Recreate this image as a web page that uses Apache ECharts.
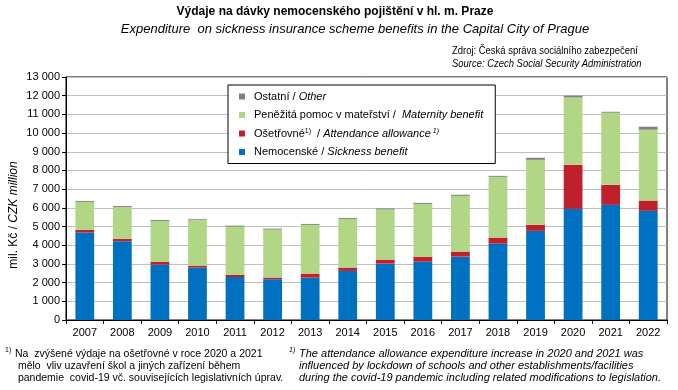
<!DOCTYPE html>
<html>
<head>
<meta charset="utf-8">
<script src="https://cdn.jsdelivr.net/npm/echarts@6/dist/echarts.min.js"></script>
<style>
html,body{margin:0;padding:0;background:#fff;}
#c{width:678px;height:390px;}
</style>
</head>
<body>
<div id="c"></div>
<script>
const years = ['2007','2008','2009','2010','2011','2012','2013','2014','2015','2016','2017','2018','2019','2020','2021','2022'];
const sickness   = [4680, 4215, 2960, 2800, 2300, 2180, 2270, 2625, 3015, 3125, 3390, 4090, 4770, 5945, 6160, 5840];
const attendance = [140, 125, 160, 110, 110, 90, 210, 180, 215, 265, 270, 320, 320, 2355, 1070, 550];
const maternity  = [1500, 1710, 2180, 2460, 2590, 2570, 2610, 2605, 2680, 2820, 2980, 3250, 3480, 3610, 3860, 3790];
const other      = [50, 50, 50, 40, 50, 50, 50, 50, 55, 55, 60, 50, 110, 90, 50, 160];

const seriesNames = ['Nemocenské', 'Ošetřovné', 'Peněžitá pomoc', 'Ostatní'];
const legendLabels = {
  'Ostatní': '{n|Ostatní /}{i| Other}',
  'Peněžitá pomoc': '{n|Peněžitá pomoc v mateřství /  }{i|Maternity benefit}',
  'Ošetřovné': '{n|Ošetřovné}{s|1)}{n|  / }{i|Attendance allowance}{si| 1)}',
  'Nemocenské': '{n|Nemocenské / }{i|Sickness benefit}'
};
const colors = ['#0070C0', '#C0202A', '#B1D685', '#808080'];
const FONT = 'Liberation Sans, Arial, sans-serif';

const chart = echarts.init(document.getElementById('c'), null, {renderer: 'canvas'});

const dataSets = [sickness, attendance, maternity, other];
const series = dataSets.map((d, i) => ({
  name: seriesNames[i],
  type: 'bar',
  stack: 'total',
  barWidth: '50%',
  data: d,
  itemStyle: { color: colors[i] },
  emphasis: { disabled: true }
}));

const rich = {
  n: { fontFamily: FONT, fontSize: 11, color: '#000' },
  i: { fontFamily: FONT, fontSize: 11, color: '#000', fontStyle: 'italic' },
  s: { fontFamily: FONT, fontSize: 7, color: '#000', padding: [0,0,5,0] },
  si: { fontFamily: FONT, fontSize: 7, color: '#000', fontStyle: 'italic', padding: [0,0,5,0] }
};

chart.setOption({
  animation: false,
  backgroundColor: '#fff',
  grid: { left: 66, right: 11, top: 77, bottom: 70, show: true, borderColor: '#000', borderWidth: 1, backgroundColor: 'transparent' },
  legend: {
    orient: 'vertical',
    left: 228,
    top: 85,
    data: ['Ostatní', 'Peněžitá pomoc', 'Ošetřovné', 'Nemocenské'],
    itemWidth: 6,
    itemHeight: 6,
    itemGap: 5.5,
    icon: 'rect',
    padding: [5, 12, 5, 11],
    borderColor: '#000',
    borderWidth: 1,
    backgroundColor: '#fff',
    selectedMode: false,
    formatter: name => legendLabels[name],
    textStyle: { fontFamily: FONT, fontSize: 11, color: '#000', padding: [0,0,0,4], lineHeight: 13, rich: rich }
  },
  xAxis: {
    type: 'category',
    data: years,
    axisLine: { lineStyle: { color: '#000', width: 1 } },
    axisTick: { show: true, length: 4, lineStyle: { color: '#000' } },
    axisLabel: { fontFamily: FONT, fontSize: 11, color: '#000', margin: 7 }
  },
  yAxis: {
    type: 'value',
    min: 0,
    max: 13000,
    interval: 1000,
    axisLine: { show: true, lineStyle: { color: '#000' } },
    axisTick: { show: true, length: 4, lineStyle: { color: '#000' } },
    splitLine: { lineStyle: { color: '#BFBFBF', width: 1 } },
    axisLabel: {
      fontFamily: FONT, fontSize: 11, color: '#000', margin: 6,
      formatter: v => String(v).replace(/\B(?=(\d{3})+(?!\d))/g, ' ')
    }
  },
  series: series,
  graphic: [
    { type: 'text', x: 335, y: 6, style: { text: 'Výdaje na dávky nemocenského pojištění v hl. m. Praze', font: 'bold 12px ' + FONT, fill: '#000', textAlign: 'center' } },
    { type: 'text', x: 355, y: 23, style: { text: 'Expenditure  on sickness insurance scheme benefits in the Capital City of Prague', font: 'italic 13px ' + FONT, fill: '#000', textAlign: 'center' } },
    { type: 'text', x: 452, y: 46, scaleX: 0.9, style: { text: 'Zdroj: Česká správa sociálního zabezpečení', font: '10.5px ' + FONT, fill: '#000' } },
    { type: 'text', x: 452, y: 59, scaleX: 0.9, style: { text: 'Source: Czech Social Security Administration', font: 'italic 10.5px ' + FONT, fill: '#000' } },
    { type: 'text', x: 14, y: 215, rotation: Math.PI / 2, style: { text: '{n|mil. Kč / }{i|CZK million}', rich: { n: { fontFamily: FONT, fontSize: 12, fill: '#000' }, i: { fontFamily: FONT, fontSize: 12, fontStyle: 'italic', fill: '#000' } }, align: 'center', verticalAlign: 'middle' } },
    { type: 'text', x: 5, y: 347, style: { text: '1)', font: '7px ' + FONT, fill: '#000' } },
    { type: 'text', x: 15, y: 348, style: { text: 'Na  zvýšené výdaje na ošetřovné v roce 2020 a 2021\n mělo  vliv uzavření škol a jiných zařízení během\n pandemie  covid-19 vč. souvisejících legislativních úprav.', font: '10.5px ' + FONT, fill: '#000', lineHeight: 12 } },
    { type: 'text', x: 289, y: 347, style: { text: '1)', font: 'italic 7px ' + FONT, fill: '#000' } },
    { type: 'text', x: 299, y: 348, style: { text: 'The attendance allowance expenditure increase in 2020 and 2021 was\ninfluenced by lockdown of schools and other establishments/facilities\nduring the covid-19 pandemic including related modifications to legislation.', font: 'italic 11px ' + FONT, fill: '#000', lineHeight: 12 } }
  ]
});
</script>
</body>
</html>
